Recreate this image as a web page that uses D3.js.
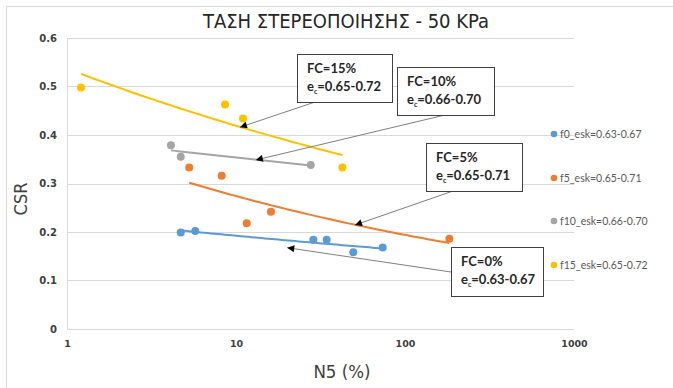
<!DOCTYPE html>
<html>
<head>
<meta charset="utf-8">
<script src="https://cdn.jsdelivr.net/npm/d3@7"></script>
<style>
  html, body { margin: 0; padding: 0; background: #fff; }
  svg { display: block; }
</style>
</head>
<body>
<svg id="chart" width="673" height="388"></svg>
<script>
// N5 (%) and CSR for each fines content series
const f0N5  = [4.71, 5.74, 28.7, 34.4, 49.4, 73.8];
const f0CSR = [0.199, 0.202, 0.184, 0.184, 0.158, 0.168];
const f5N5  = [5.29, 8.23, 11.57, 16.1, 183];
const f5CSR = [0.333, 0.316, 0.218, 0.242, 0.186];
const f10N5  = [4.12, 4.71, 27.7];
const f10CSR = [0.379, 0.355, 0.338];
const f15N5  = [1.21, 8.61, 11.0, 42.6];
const f15CSR = [0.498, 0.463, 0.434, 0.333];

const seriesNames  = ["f0_esk=0.63-0.67", "f5_esk=0.65-0.71", "f10_esk=0.66-0.70", "f15_esk=0.65-0.72"];
const seriesColors = ["#5b9bd5", "#ed7d31", "#a5a5a5", "#ffc000"];

const xTicks = [1, 10, 100, 1000];
const yTicks = [0, 0.1, 0.2, 0.3, 0.4, 0.5, 0.6];

// Callout labels: arrow tip given as [N5, CSR]
const calloutFC  = ["FC=15%", "FC=10%", "FC=5%", "FC=0%"];
const calloutEc  = ["=0.65-0.72", "=0.66-0.70", "=0.65-0.71", "=0.63-0.67"];
const calloutTip = [[10.56, 0.416], [13.1, 0.3485], [50.6, 0.2144], [20.1, 0.1676]];

const series = [
  { name: seriesNames[0], color: seriesColors[0], x: f0N5,  y: f0CSR },
  { name: seriesNames[1], color: seriesColors[1], x: f5N5,  y: f5CSR },
  { name: seriesNames[2], color: seriesColors[2], x: f10N5, y: f10CSR },
  { name: seriesNames[3], color: seriesColors[3], x: f15N5, y: f15CSR }
];

const svg = d3.select("#chart");
const W = 673, H = 388;
const plot = { left: 67, right: 574, top: 38, bottom: 329 };

const x = d3.scaleLog().domain([1, 1000]).range([plot.left, plot.right]);
const y = d3.scaleLinear().domain([0, 0.6]).range([plot.bottom, plot.top]);

// outer frame (left and top edges)
svg.append("line").attr("x1", 6.5).attr("x2", 6.5).attr("y1", 6.5).attr("y2", H)
  .attr("stroke", "#d9d9d9").attr("stroke-width", 1);
svg.append("line").attr("x1", 6.5).attr("x2", W).attr("y1", 6.5).attr("y2", 6.5)
  .attr("stroke", "#d9d9d9").attr("stroke-width", 1);

// title
svg.append("text")
  .attr("x", 346).attr("y", 28)
  .attr("text-anchor", "middle")
  .attr("font-family", "'DejaVu Sans Condensed', 'DejaVu Sans', sans-serif")
  .attr("font-size", 20)
  .attr("fill", "#262626")
  .text("ΤΑΣΗ ΣΤΕΡΕΟΠΟΙΗΣΗΣ - 50 KPa");

// horizontal gridlines
svg.append("g").selectAll("line").data(yTicks).join("line")
  .attr("x1", plot.left).attr("x2", plot.right)
  .attr("y1", d => Math.round(y(d)) + 0.5).attr("y2", d => Math.round(y(d)) + 0.5)
  .attr("stroke", "#d9d9d9").attr("stroke-width", 1);

// y axis line
svg.append("line")
  .attr("x1", plot.left + 0.5).attr("x2", plot.left + 0.5)
  .attr("y1", plot.top).attr("y2", plot.bottom)
  .attr("stroke", "#d9d9d9");

// y axis
const yAxis = svg.append("g")
  .attr("transform", `translate(${plot.left},0)`)
  .call(d3.axisLeft(y).tickValues(yTicks).tickFormat(d3.format("")).tickSize(0).tickPadding(10));
yAxis.select(".domain").remove();
yAxis.selectAll("text")
  .attr("font-family", "'DejaVu Sans', sans-serif")
  .attr("font-weight", "bold")
  .attr("font-size", 10)
  .attr("fill", "#404040");

// x axis
const xAxis = svg.append("g")
  .attr("transform", `translate(0,${plot.bottom})`)
  .call(d3.axisBottom(x).tickValues(xTicks).tickFormat(d3.format("d")).tickSize(0).tickPadding(11));
xAxis.select(".domain").remove();
xAxis.selectAll("text")
  .attr("font-family", "'DejaVu Sans', sans-serif")
  .attr("font-weight", "bold")
  .attr("font-size", 9.5)
  .attr("fill", "#404040");

// axis titles
svg.append("text")
  .attr("x", 342).attr("y", 378)
  .attr("text-anchor", "middle")
  .attr("font-family", "'DejaVu Sans Condensed', 'DejaVu Sans', sans-serif")
  .attr("font-size", 18.5)
  .attr("fill", "#404040")
  .text("N5 (%)");
svg.append("text")
  .attr("transform", "translate(27,199) rotate(-90)")
  .attr("text-anchor", "middle")
  .attr("font-family", "'DejaVu Sans Condensed', 'DejaVu Sans', sans-serif")
  .attr("font-size", 18)
  .attr("fill", "#404040")
  .text("CSR");

// power-law trendline y = a * x^b fitted in log-log space
function powerFit(xs, ys) {
  const lx = xs.map(Math.log), ly = ys.map(Math.log);
  const mx = d3.mean(lx), my = d3.mean(ly);
  const b = d3.sum(lx, (v, i) => (v - mx) * (ly[i] - my)) / d3.sum(lx, v => (v - mx) * (v - mx));
  const a = Math.exp(my - b * mx);
  return v => a * Math.pow(v, b);
}

const trendG = svg.append("g");
const line = d3.line().x(d => x(d[0])).y(d => y(d[1]));
series.forEach(s => {
  const f = powerFit(s.x, s.y);
  const [lo, hi] = d3.extent(s.x);
  const n = 60;
  const pts = d3.range(n + 1).map(i => {
    const v = Math.exp(Math.log(lo) + (Math.log(hi) - Math.log(lo)) * i / n);
    return [v, f(v)];
  });
  trendG.append("path")
    .attr("d", line(pts))
    .attr("fill", "none")
    .attr("stroke", s.color)
    .attr("stroke-width", 2);
});

// points
const ptsG = svg.append("g");
series.forEach(s => {
  ptsG.selectAll(null).data(s.x.map((v, i) => [v, s.y[i]])).join("circle")
    .attr("cx", d => x(d[0])).attr("cy", d => y(d[1]))
    .attr("r", 4)
    .attr("fill", s.color);
});

// legend
const legend = svg.append("g");
const legendY = [134, 178, 221, 265];
series.forEach((s, i) => {
  legend.append("circle").attr("cx", 554).attr("cy", legendY[i]).attr("r", 3.3).attr("fill", s.color);
  legend.append("text")
    .attr("x", 560).attr("y", legendY[i] + 3.5)
    .attr("font-family", "Lato, 'Open Sans', sans-serif")
    .attr("font-size", 10.5)
    .attr("fill", "#595959")
    .text(s.name);
});

// callouts
const defs = svg.append("defs");
defs.append("marker")
  .attr("id", "arrowhead")
  .attr("viewBox", "0 0 10 10")
  .attr("refX", 10).attr("refY", 5)
  .attr("markerWidth", 9).attr("markerHeight", 7)
  .attr("markerUnits", "userSpaceOnUse")
  .attr("orient", "auto")
  .append("path").attr("d", "M0,0 L10,5 L0,10 Z").attr("fill", "#000");

const calloutBox = [
  { x: 297, y: 54,  w: 95, h: 48, tail: [315, 102] },
  { x: 397, y: 67,  w: 97, h: 48, tail: [445, 115] },
  { x: 426, y: 143, w: 96, h: 48, tail: [453, 191] },
  { x: 451, y: 247, w: 92, h: 49, tail: [451, 272] }
];

const calG = svg.append("g");
calloutBox.forEach((b, i) => {
  const tip = calloutTip[i];
  calG.append("line")
    .attr("x1", b.tail[0]).attr("y1", b.tail[1])
    .attr("x2", x(tip[0])).attr("y2", y(tip[1]))
    .attr("stroke", "#7f7f7f").attr("stroke-width", 1)
    .attr("marker-end", "url(#arrowhead)");
});
calloutBox.forEach((b, i) => {
  const g = calG.append("g");
  g.append("rect")
    .attr("x", b.x + 0.5).attr("y", b.y + 0.5).attr("width", b.w).attr("height", b.h)
    .attr("fill", "#fff").attr("stroke", "#404040").attr("stroke-width", 1);
  g.append("text")
    .attr("x", b.x + 10).attr("y", b.y + 19)
    .attr("font-family", "Lato, sans-serif").attr("font-weight", "bold")
    .attr("font-size", 13).attr("fill", "#262626")
    .text(calloutFC[i]);
  const t2 = g.append("text")
    .attr("x", b.x + 10).attr("y", b.y + 37)
    .attr("font-family", "Lato, sans-serif").attr("font-weight", "bold")
    .attr("font-size", 13).attr("fill", "#262626");
  t2.append("tspan").text("e");
  t2.append("tspan").attr("font-size", 7).attr("dy", 3).text("c");
  t2.append("tspan").attr("dy", -3).text(calloutEc[i]);
});
</script>
</body>
</html>
